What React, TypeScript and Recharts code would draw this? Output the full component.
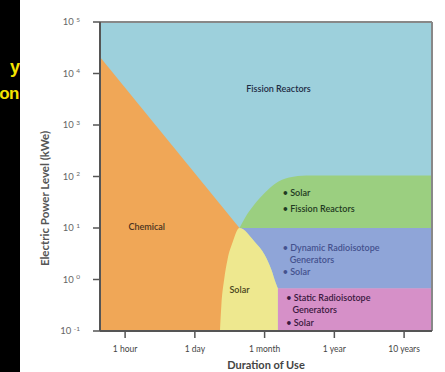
import React from "react";
import { ComposedChart, Area, XAxis, YAxis, ReferenceDot, ReferenceLine } from "recharts";

// x: duration position (1 hour = 0 ... 10 years = 4), y: [low, high] in log10(kWe)
const durationTicks = [0, 1, 2, 3, 4];
const durationLabels = ["1 hour", "1 day", "1 month", "1 year", "10 years"];
const powerTicks = [-1, 0, 1, 2, 3, 4, 5];

const fissionRegion = [
  { x: -0.36, y: [-1, 5] },
  { x: 4.4, y: [-1, 5] },
];
const chemicalRegion = [
  { x: -0.36, y: [-1, 4.32] },
  { x: 1.64, y: [-1, 1.0] },
];
const solarRegion = [
  { x: 1.36, y: [-1, -1] },
  { x: 1.38, y: [-1, -0.5] },
  { x: 1.42, y: [-1, 0] },
  { x: 1.47, y: [-1, 0.4] },
  { x: 1.54, y: [-1, 0.72] },
  { x: 1.64, y: [-1, 1.0] },
  { x: 1.86, y: [-1, 0.73] },
  { x: 2.0, y: [-1, 0.48] },
  { x: 2.1, y: [-1, 0.18] },
  { x: 2.16, y: [-1, -0.07] },
  { x: 2.19, y: [-1, -0.17] },
];
const dynamicRegion = [
  { x: 1.64, y: [1.0, 1.0] },
  { x: 1.86, y: [0.73, 1.0] },
  { x: 2.0, y: [0.48, 1.0] },
  { x: 2.1, y: [0.18, 1.0] },
  { x: 2.16, y: [-0.07, 1.0] },
  { x: 2.19, y: [-0.17, 1.0] },
  { x: 4.4, y: [-0.17, 1.0] },
];
const staticRegion = [
  { x: 2.19, y: [-1, -0.17] },
  { x: 4.4, y: [-1, -0.17] },
];
const solarFissionRegion = [
  { x: 1.64, y: [1.0, 1.0] },
  { x: 1.72, y: [1.0, 1.2] },
  { x: 1.85, y: [1.0, 1.45] },
  { x: 2.0, y: [1.0, 1.68] },
  { x: 2.15, y: [1.0, 1.86] },
  { x: 2.35, y: [1.0, 1.98] },
  { x: 2.6, y: [1.0, 2.02] },
  { x: 4.4, y: [1.0, 2.02] },
];

const labels = [
  { x: 2.2, y: 3.7, text: "Fission Reactors", color: "#1d2c44", anchor: "middle" },
  { x: 0.31, y: 1.02, text: "Chemical", color: "#4a3320", anchor: "middle" },
  { x: 1.64, y: -0.2, text: "Solar", color: "#4a4520", anchor: "middle" },
  { x: 2.26, y: 1.68, text: "• Solar", color: "#1f3a22", anchor: "start" },
  { x: 2.26, y: 1.37, text: "• Fission Reactors", color: "#1f3a22", anchor: "start" },
  { x: 2.26, y: 0.63, text: "• Dynamic Radioisotope", color: "#44518e", anchor: "start" },
  { x: 2.36, y: 0.38, text: "Generators", color: "#44518e", anchor: "start" },
  { x: 2.26, y: 0.15, text: "• Solar", color: "#44518e", anchor: "start" },
  { x: 2.31, y: -0.34, text: "• Static Radioisotope", color: "#3a1840", anchor: "start" },
  { x: 2.4, y: -0.59, text: "Generators", color: "#3a1840", anchor: "start" },
  { x: 2.31, y: -0.83, text: "• Solar", color: "#3a1840", anchor: "start" },
];

const font = "Lato, 'Open Sans', sans-serif";

const PowerTick = (props: any) => {
  const { x, y, payload } = props;
  return (
    <text x={x - 11} y={y + 3} textAnchor="end" fontSize={9.5} fill="#666" fontFamily={font}>
      <tspan>10 </tspan>
      <tspan dy={-3.5} fontSize={6.5}>{payload.value}</tspan>
    </text>
  );
};

const renderYLabel = (props: any) => {
  const vb = props.viewBox;
  const cx = vb.x + 44;
  const cy = vb.y + vb.height / 2 + 22;
  return (
    <text
      x={cx}
      y={cy}
      transform={`rotate(-90, ${cx}, ${cy})`}
      textAnchor="middle"
      dominantBaseline="central"
      fontSize={11.5}
      fontWeight={700}
      fill="#555"
      fontFamily={font}
    >
      Electric Power Level (kWe)
    </text>
  );
};

export default function App() {
  return (
    <div style={{ position: "absolute", left: 0, top: 0, width: 445, height: 372, background: "#fff", overflow: "hidden" }}>
      <ComposedChart width={445} height={372} margin={{ top: 22, right: 13, bottom: 0, left: 0 }}>
        <XAxis
          dataKey="x"
          type="number"
          domain={[-0.36, 4.4]}
          ticks={durationTicks}
          tickFormatter={(v: number) => durationLabels[v]}
          allowDataOverflow
          height={41}
          axisLine={{ stroke: "#555", strokeWidth: 2 }}
          tickLine={{ stroke: "#555", strokeWidth: 1.5 }}
          tickSize={7}
          tickMargin={8}
          tick={{ fontSize: 8.5, fill: "#444", fontFamily: font }}
          label={{ value: "Duration of Use", position: "insideBottom", offset: 3, fontSize: 11, fontWeight: 700, fill: "#444", fontFamily: font }}
        />
        <YAxis
          type="number"
          domain={[-1, 5]}
          ticks={powerTicks}
          allowDataOverflow
          width={100}
          axisLine={{ stroke: "#555", strokeWidth: 2 }}
          tickLine={{ stroke: "#555", strokeWidth: 1.5 }}
          tickSize={7}
          tick={<PowerTick />}
          label={{ content: renderYLabel }}
        />
        <Area data={fissionRegion} dataKey="y" type="linear" fill="#9dd0dc" fillOpacity={1} stroke="none" isAnimationActive={false} />
        <Area data={solarFissionRegion} dataKey="y" type="monotone" fill="#9bcf80" fillOpacity={1} stroke="none" isAnimationActive={false} />
        <Area data={dynamicRegion} dataKey="y" type="monotone" fill="#8fa5d8" fillOpacity={1} stroke="none" isAnimationActive={false} />
        <Area data={staticRegion} dataKey="y" type="linear" fill="#d690c8" fillOpacity={1} stroke="none" isAnimationActive={false} />
        <Area data={chemicalRegion} dataKey="y" type="linear" fill="#f0a757" fillOpacity={1} stroke="none" isAnimationActive={false} />
        <Area data={solarRegion} dataKey="y" type="monotone" fill="#eee88f" fillOpacity={1} stroke="none" isAnimationActive={false} />
        <ReferenceLine y={5} stroke="#888" strokeWidth={2} />
        <ReferenceLine x={4.4} stroke="#888" strokeWidth={2} />
        {labels.map((l) => (
          <ReferenceDot
            key={l.text + l.y}
            x={l.x}
            y={l.y}
            r={0}
            shape={(p: any) => (
              <text
                x={p.cx}
                y={p.cy}
                textAnchor={l.anchor as any}
                dominantBaseline="central"
                fontSize={9}
                fontWeight={600}
                fill={l.color}
                fontFamily={font}
              >
                {l.text}
              </text>
            )}
          />
        ))}
      </ComposedChart>
      <div style={{ position: "absolute", left: 0, top: 0, width: 20, height: 372, background: "#000", overflow: "hidden" }}>
        <div style={{ position: "absolute", right: 0, top: 58, color: "#f5e400", fontFamily: "'Liberation Sans', sans-serif", fontWeight: 700, fontSize: 18, lineHeight: "18px", whiteSpace: "nowrap" }}>y</div>
        <div style={{ position: "absolute", right: 1, top: 85, color: "#f5e400", fontFamily: "'Liberation Sans', sans-serif", fontWeight: 700, fontSize: 17, lineHeight: "18px", letterSpacing: -0.5, whiteSpace: "nowrap" }}>on</div>
      </div>
    </div>
  );
}
